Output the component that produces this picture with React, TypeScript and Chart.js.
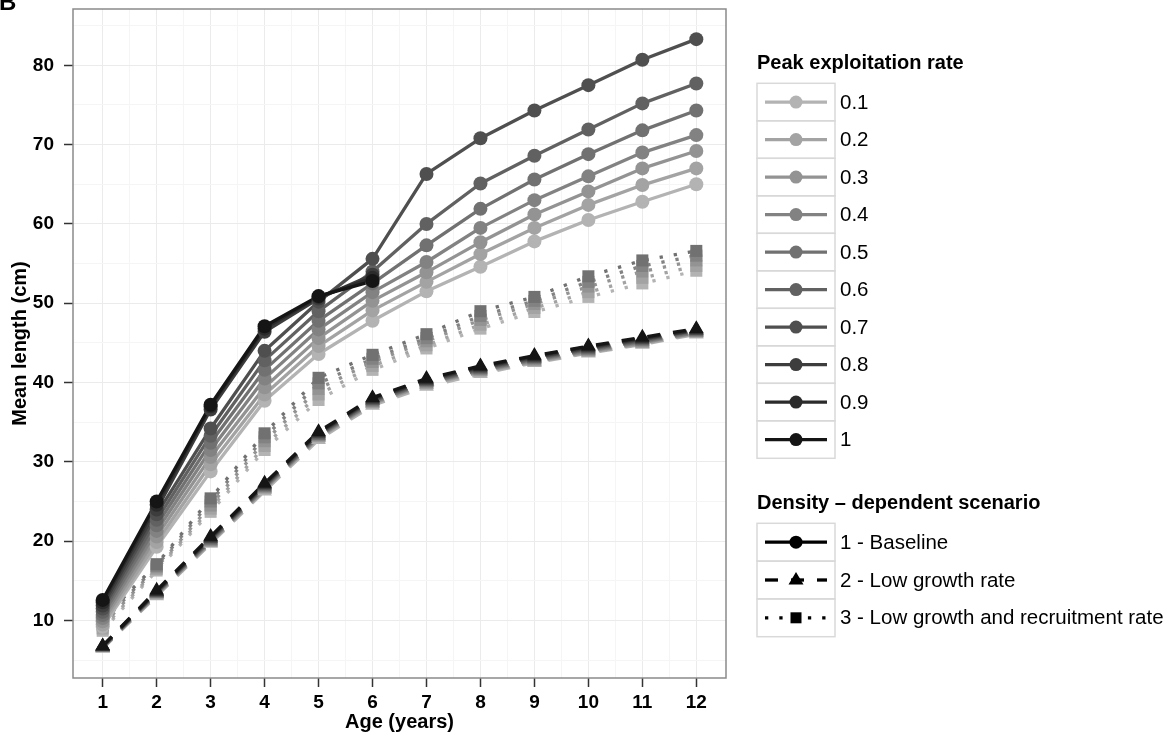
import React, { useEffect, useRef } from 'react';
import { Chart, registerables } from 'chart.js';

Chart.register(...registerables);

// ---------------- data ----------------
const AGES = [1, 2, 3, 4, 5, 6, 7, 8, 9, 10, 11, 12];
const RATES = ['0.1', '0.2', '0.3', '0.4', '0.5', '0.6', '0.7', '0.8', '0.9', '1'];
const GREYS = ['#b3b3b3', '#a3a3a3', '#939393', '#828282', '#717171', '#616161', '#4f4f4f', '#3d3d3d', '#2b2b2b', '#151515'];

const X_MAJOR = [1, 2, 3, 4, 5, 6, 7, 8, 9, 10, 11, 12];
const X_MINOR = [1.5, 2.5, 3.5, 4.5, 5.5, 6.5, 7.5, 8.5, 9.5, 10.5, 11.5];
const X_LABELS = ['1', '2', '3', '4', '5', '6', '7', '8', '9', '10', '11', '12'];
const Y_MAJOR = [10, 20, 30, 40, 50, 60, 70, 80];
const Y_MINOR = [5, 15, 25, 35, 45, 55, 65, 75, 85];
const Y_LABELS = ['10', '20', '30', '40', '50', '60', '70', '80'];

// Scenario 1 - Baseline (circles, solid)
const BASE_01 = [9.2, 19.3, 28.8, 37.7, 43.6, 47.8, 51.5, 54.6, 57.8, 60.5, 62.8, 65.0];
const BASE_02 = [9.5, 19.9, 29.7, 38.5, 44.6, 49.1, 52.7, 56.2, 59.5, 62.4, 64.9, 67.0];
const BASE_03 = [9.9, 20.6, 30.6, 39.4, 45.6, 50.3, 53.9, 57.7, 61.2, 64.1, 67.0, 69.2];
const BASE_04 = [10.3, 21.3, 31.5, 40.5, 46.7, 51.4, 55.2, 59.5, 63.0, 66.0, 69.0, 71.2];
const BASE_05 = [10.7, 22.0, 32.4, 41.6, 47.8, 52.5, 57.3, 61.9, 65.6, 68.8, 71.8, 74.3];
const BASE_06 = [11.1, 22.7, 33.3, 42.8, 49.0, 54.0, 60.0, 65.1, 68.6, 71.9, 75.2, 77.7];
const BASE_07 = [11.5, 23.4, 34.2, 44.0, 50.2, 55.6, 66.3, 70.8, 74.3, 77.5, 80.7, 83.3];
const BASE_08 = [11.9, 24.0, 36.6, 46.4, 50.6, 53.6, null, null, null, null, null, null];
const BASE_09 = [12.3, 24.6, 37.0, 46.8, 50.8, 53.2, null, null, null, null, null, null];
const BASE_10 = [12.6, 25.0, 37.2, 47.1, 50.9, 52.8, null, null, null, null, null, null];

// Scenario 2 - Low growth rate (triangles, dashed)
const LOWG_01 = [6.5, 13.1, 19.7, 26.3, 32.8, 37.1, 39.5, 41.1, 42.5, 43.7, 44.8, 46.1];
const LOWG_02 = [6.5, 13.2, 19.8, 26.5, 33.0, 37.3, 39.7, 41.3, 42.6, 43.8, 44.9, 46.2];
const LOWG_03 = [6.6, 13.3, 19.9, 26.6, 33.1, 37.4, 39.8, 41.4, 42.7, 43.9, 45.0, 46.3];
const LOWG_04 = [6.6, 13.4, 20.0, 26.7, 33.2, 37.5, 39.9, 41.5, 42.8, 44.0, 45.1, 46.3];
const LOWG_05 = [6.6, 13.4, 20.1, 26.8, 33.3, 37.6, 40.0, 41.6, 42.9, 44.1, 45.2, 46.4];
const LOWG_06 = [6.7, 13.5, 20.2, 26.9, 33.4, 37.7, 40.1, 41.7, 43.0, 44.2, 45.3, 46.5];
const LOWG_07 = [6.7, 13.6, 20.3, 27.0, 33.5, 37.8, 40.2, 41.8, 43.1, 44.3, 45.4, 46.6];
const LOWG_08 = [6.7, 13.6, 20.4, 27.1, 33.6, 37.9, 40.3, 41.9, 43.2, 44.4, 45.5, 46.6];
const LOWG_09 = [6.8, 13.7, 20.5, 27.2, 33.7, 38.0, 40.4, 42.0, 43.3, 44.5, 45.6, 46.7];
const LOWG_10 = [6.8, 13.8, 20.6, 27.3, 33.8, 38.1, 40.5, 42.1, 43.4, 44.6, 45.7, 46.8];

// Scenario 3 - Low growth and recruitment rate (squares, dotted)
const LOWR_01 = [8.7, 16.3, 23.7, 31.5, 37.8, 41.6, 44.3, 46.8, 48.9, 50.8, 52.5, 54.1];
const LOWR_02 = [9.0, 16.5, 24.1, 32.0, 38.5, 42.1, 44.7, 47.3, 49.4, 51.4, 53.2, 54.7];
const LOWR_03 = [9.4, 16.7, 24.5, 32.6, 39.2, 42.6, 45.2, 47.9, 49.9, 52.1, 54.0, 55.4];
const LOWR_04 = [9.8, 16.9, 25.0, 33.1, 39.9, 43.0, 45.6, 48.4, 50.3, 52.7, 54.7, 56.0];
const LOWR_05 = [10.2, 17.1, 25.4, 33.6, 40.6, 43.5, 46.1, 49.0, 50.8, 53.4, 55.4, 56.6];

const BASELINE = [BASE_01, BASE_02, BASE_03, BASE_04, BASE_05, BASE_06, BASE_07, BASE_08, BASE_09, BASE_10];
const LOW_GROWTH = [LOWG_01, LOWG_02, LOWG_03, LOWG_04, LOWG_05, LOWG_06, LOWG_07, LOWG_08, LOWG_09, LOWG_10];
const LOW_RECRUIT = [LOWR_01, LOWR_02, LOWR_03, LOWR_04, LOWR_05];

const SCENARIOS = ['1 - Baseline', '2 - Low growth rate', '3 - Low growth and recruitment rate'];

// ---------------- styling ----------------
const FONT = '"Liberation Sans", Arial, Helvetica, sans-serif';
const LINE_W = 3.3;
const DASHED = [13, 13];
const DOTTED = [3.3, 11];

function toPoints(values: (number | null)[]) {
  return AGES.map((a, i) => ({ x: a, y: values[i] }));
}

const legendPlugin = {
  id: 'customLegend',
  afterDatasetsDraw(chart: any) {
    const { ctx, chartArea } = chart;
    ctx.save();
    ctx.strokeStyle = '#8a8a8a';
    ctx.lineWidth = 1.5;
    ctx.setLineDash([]);
    ctx.strokeRect(chartArea.left, chartArea.top, chartArea.right - chartArea.left, chartArea.bottom - chartArea.top);
    ctx.restore();
  },
  afterDraw(chart: any) {
    const ctx = chart.ctx as CanvasRenderingContext2D;
    ctx.save();
    // panel letter
    ctx.fillStyle = '#000';
    ctx.font = `bold 24px ${FONT}`;
    ctx.textAlign = 'left';
    ctx.textBaseline = 'alphabetic';
    ctx.fillText('B', -1, 10);

    const keyX = 757;
    const keyW = 78;
    const keyH = 37.5;
    const lx0 = 765;
    const lx1 = 827;
    const mx = 796;
    const textX = 840;

    // Legend 1
    ctx.textBaseline = 'middle';
    ctx.font = `bold 20px ${FONT}`;
    ctx.fillText('Peak exploitation rate', 757, 63);
    RATES.forEach((r, i) => {
      const top = 83.3 + i * keyH;
      const cy = top + keyH / 2;
      ctx.setLineDash([]);
      ctx.strokeStyle = '#d9d9d9';
      ctx.lineWidth = 1.5;
      ctx.strokeRect(keyX, top, keyW, keyH);
      ctx.strokeStyle = GREYS[i];
      ctx.lineWidth = LINE_W;
      ctx.beginPath();
      ctx.moveTo(lx0, cy);
      ctx.lineTo(lx1, cy);
      ctx.stroke();
      ctx.fillStyle = GREYS[i];
      ctx.beginPath();
      ctx.arc(mx, cy, 6.5, 0, Math.PI * 2);
      ctx.fill();
      ctx.fillStyle = '#000';
      ctx.font = `20.5px ${FONT}`;
      ctx.fillText(r, textX, cy + 1);
    });

    // Legend 2
    ctx.font = `bold 20px ${FONT}`;
    ctx.fillStyle = '#000';
    ctx.fillText('Density \u2013 dependent scenario', 757, 503);
    SCENARIOS.forEach((s, i) => {
      const top = 523.3 + i * 37.8;
      const cy = top + 37.8 / 2;
      ctx.setLineDash([]);
      ctx.strokeStyle = '#d9d9d9';
      ctx.lineWidth = 1.5;
      ctx.strokeRect(keyX, top, keyW, 37.8);
      ctx.strokeStyle = '#000';
      ctx.fillStyle = '#000';
      ctx.lineWidth = LINE_W;
      ctx.setLineDash(i === 0 ? [] : i === 1 ? DASHED : DOTTED);
      ctx.beginPath();
      ctx.moveTo(lx0, cy);
      ctx.lineTo(lx1, cy);
      ctx.stroke();
      ctx.setLineDash([]);
      ctx.beginPath();
      if (i === 0) {
        ctx.arc(mx, cy, 6.5, 0, Math.PI * 2);
      } else if (i === 1) {
        ctx.moveTo(mx, cy - 8);
        ctx.lineTo(mx + 7.5, cy + 4.5);
        ctx.lineTo(mx - 7.5, cy + 4.5);
        ctx.closePath();
      } else {
        ctx.rect(mx - 5.5, cy - 5.5, 11, 11);
      }
      ctx.fill();
      ctx.font = `20.5px ${FONT}`;
      ctx.fillText(s, textX, cy + 1);
    });
    ctx.restore();
  },
};

export default function App() {
  const canvasRef = useRef<HTMLCanvasElement | null>(null);

  useEffect(() => {
    if (!canvasRef.current) return;
    const lineSets: any[] = [];
    const pointSets: any[] = [];

    const addGroup = (series: (number | null)[][], dash: number[], style: string, radius: number) => {
      series.forEach((vals, i) => {
        lineSets.push({
          data: toPoints(vals),
          borderColor: GREYS[i],
          backgroundColor: GREYS[i],
          borderWidth: LINE_W,
          borderDash: dash,
          borderCapStyle: 'butt',
          borderJoinStyle: 'round',
          pointRadius: 0,
          pointHoverRadius: 0,
          fill: false,
          tension: 0,
          showLine: true,
        });
        pointSets.push({
          data: toPoints(vals),
          showLine: false,
          pointStyle: style,
          pointRadius: radius,
          pointHoverRadius: radius,
          pointBackgroundColor: GREYS[i],
          pointBorderColor: GREYS[i],
          pointBorderWidth: 0,
          borderColor: GREYS[i],
          backgroundColor: GREYS[i],
        });
      });
    };
    addGroup(LOW_RECRUIT, DOTTED, 'rect', 8.5);
    addGroup(LOW_GROWTH, DASHED, 'triangle', 8.5);
    addGroup(BASELINE, [], 'circle', 7);

    const ordered = [...lineSets, ...pointSets];
    const total = ordered.length;
    ordered.forEach((d, k) => {
      d.order = total - k;
    });

    const isMajorY = (v: number) => Y_MAJOR.indexOf(v) >= 0;
    const isMajorX = (v: number) => X_MAJOR.indexOf(v) >= 0;

    const chart = new Chart(canvasRef.current, {
      type: 'line',
      data: { datasets: ordered },
      plugins: [legendPlugin],
      options: {
        animation: false,
        responsive: false,
        devicePixelRatio: 1,
        events: [],
        layout: { padding: { left: 0, top: 9, right: 443, bottom: 0 } },
        plugins: {
          legend: { display: false },
          tooltip: { enabled: false },
        },
        scales: {
          x: {
            type: 'linear',
            min: 0.45,
            max: 12.55,
            bounds: 'data',
            afterBuildTicks: (scale: any) => {
              scale.ticks = [...X_MAJOR, ...X_MINOR].sort((a, b) => a - b).map((v) => ({ value: v }));
            },
            afterFit: (scale: any) => {
              scale.height = 62;
              scale.paddingLeft = 0;
              scale.paddingRight = 0;
            },
            border: { display: false },
            grid: {
              drawTicks: true,
              tickLength: 9,
              lineWidth: 1,
              tickWidth: 1.5,
              color: (c: any) => (isMajorX(c.tick?.value) ? '#ebebeb' : '#f5f5f5'),
              tickColor: (c: any) => (isMajorX(c.tick?.value) ? '#333333' : 'rgba(0,0,0,0)'),
            },
            ticks: {
              autoSkip: false,
              maxRotation: 0,
              minRotation: 0,
              padding: 4,
              color: '#000',
              font: { family: FONT, size: 19, weight: 'bold' },
              callback: (v: any) => {
                const idx = X_MAJOR.indexOf(Number(v));
                return idx >= 0 ? X_LABELS[idx] : '';
              },
            },
            title: {
              display: true,
              text: 'Age (years)',
              color: '#000',
              font: { family: FONT, size: 20, weight: 'bold' },
              padding: { top: 0, bottom: 6 },
            },
          },
          y: {
            type: 'linear',
            min: 2.75,
            max: 87.1,
            bounds: 'data',
            afterBuildTicks: (scale: any) => {
              scale.ticks = [...Y_MAJOR, ...Y_MINOR].sort((a, b) => a - b).map((v) => ({ value: v }));
            },
            afterFit: (scale: any) => {
              scale.width = 73;
              scale.paddingTop = 0;
              scale.paddingBottom = 0;
            },
            border: { display: false },
            grid: {
              drawTicks: true,
              tickLength: 9,
              lineWidth: 1,
              tickWidth: 1.5,
              color: (c: any) => (isMajorY(c.tick?.value) ? '#ebebeb' : '#f5f5f5'),
              tickColor: (c: any) => (isMajorY(c.tick?.value) ? '#333333' : 'rgba(0,0,0,0)'),
            },
            ticks: {
              autoSkip: false,
              padding: 10,
              color: '#000',
              font: { family: FONT, size: 19, weight: 'bold' },
              callback: (v: any) => {
                const idx = Y_MAJOR.indexOf(Number(v));
                return idx >= 0 ? Y_LABELS[idx] : '';
              },
            },
            title: {
              display: true,
              text: 'Mean length (cm)',
              color: '#000',
              font: { family: FONT, size: 20, weight: 'bold' },
              padding: { top: 8, bottom: 0 },
            },
          },
        },
      } as any,
    });
    return () => chart.destroy();
  }, []);

  return (
    <div style={{ position: 'fixed', left: 0, top: 0, width: 1169, height: 740, background: '#ffffff' }}>
      <canvas ref={canvasRef} width={1169} height={740} style={{ display: 'block', width: 1169, height: 740 }} />
    </div>
  );
}
